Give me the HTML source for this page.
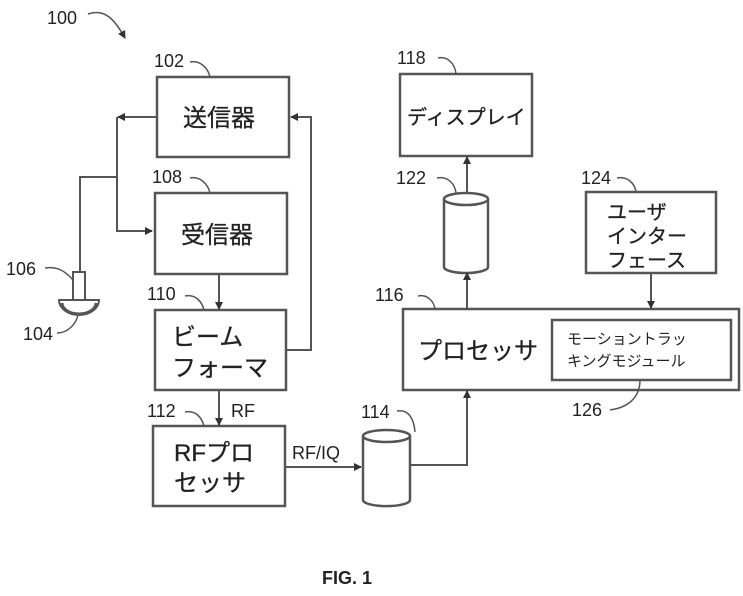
<!DOCTYPE html>
<html><head><meta charset="utf-8"><style>
body{margin:0;background:#fff;}
svg{display:block;font-family:"Liberation Sans","Noto Sans CJK JP",sans-serif;}
.b{fill:#fff;stroke:#555;stroke-width:2.5}
.l{fill:none;stroke:#555;stroke-width:2}
.t{font-size:24px;fill:#222;stroke:#222;stroke-width:0.3}
.n{font-size:18px;fill:#222;}
</style></head><body>
<svg width="743" height="596" viewBox="0 0 743 596">
<defs><marker id="a" markerWidth="8" markerHeight="8" refX="7" refY="4" orient="auto" markerUnits="userSpaceOnUse"><path d="M0,0 L8,4 L0,8z" fill="#333"/></marker></defs>
<rect class="b" x="157" y="77" width="132" height="80"/>
<rect class="b" x="155" y="193" width="132" height="81"/>
<rect class="b" x="155" y="310" width="131" height="80"/>
<rect class="b" x="153" y="426" width="132" height="80"/>
<rect class="b" x="400" y="74" width="132" height="82"/>
<rect class="b" x="586" y="192" width="130" height="81"/>
<rect class="b" x="403" y="309" width="336" height="81"/>
<rect class="b" x="552" y="320" width="179" height="60"/>
<path class="b" d="M444,199 v68 a22,6 0 0 0 44,0 v-68"/>
<ellipse class="b" cx="466" cy="199" rx="22" ry="6"/>
<path class="b" d="M363,436 v64 a23,6 0 0 0 47,0 v-64"/>
<ellipse class="b" cx="386.5" cy="436" rx="23.5" ry="6"/>
<path class="l" d="M157,117 H118" marker-end="url(#a)"/>
<path class="l" d="M117,117 V231 H152" marker-end="url(#a)"/>
<path class="l" d="M117,177 H80 V272"/>
<path class="l" d="M286,350 H311 V117 H291" marker-end="url(#a)"/>
<path class="l" d="M219,274 V309" marker-end="url(#a)"/>
<path class="l" d="M219,390 V425" marker-end="url(#a)"/>
<path class="l" d="M285,467 H361" marker-end="url(#a)"/>
<path class="l" d="M410,465 H467 V391" marker-end="url(#a)"/>
<path class="l" d="M467,309 V273" marker-end="url(#a)"/>
<path class="l" d="M467,193 V157" marker-end="url(#a)"/>
<path class="l" d="M651,273 V308" marker-end="url(#a)"/>
<rect class="b" x="73" y="272" width="12" height="28" style="stroke-width:2"/>
<path class="b" d="M59,300 H99 A20,15 0 0 1 59,300z" style="stroke-width:2"/>
<path d="M62,303 A17,11 0 0 0 96,303" fill="none" stroke="#555" stroke-width="3"/>
<g class="l" style="stroke-width:1.5">
<path d="M88,14 C105,8 115,20 125,38" marker-end="url(#a)"/>
<path d="M190,62 C200,60 208,68 210,77"/>
<path d="M190,178 C200,176 208,184 210,193"/>
<path d="M45,268 C58,266 66,272 73,280"/>
<path d="M57,333 C68,333 76,324 78,315"/>
<path d="M185,296 C196,294 202,302 204,310"/>
<path d="M185,412 C196,410 202,418 204,426"/>
<path d="M438,58 C448,56 455,64 456,74"/>
<path d="M437,178 C448,176 455,184 456,193"/>
<path d="M617,178 C628,176 635,184 636,192"/>
<path d="M418,296 C428,294 434,302 435,309"/>
<path d="M397,411 C408,409 414,418 415,432"/>
<path d="M610,410 C625,408 640,400 640,380"/>
</g>
<text class="n" x="47" y="24">100</text>
<text class="n" x="154" y="67">102</text>
<text class="n" x="152" y="183">108</text>
<text class="n" x="6" y="275">106</text>
<text class="n" x="23" y="340">104</text>
<text class="n" x="147" y="300">110</text>
<text class="n" x="147" y="417">112</text>
<text class="n" x="397" y="64">118</text>
<text class="n" x="396" y="184">122</text>
<text class="n" x="581" y="184">124</text>
<text class="n" x="375" y="301">116</text>
<text class="n" x="361" y="418">114</text>
<text class="n" x="572" y="416">126</text>
<text class="n" x="231" y="417">RF</text>
<text class="n" x="292" y="459">RF/IQ</text>
<text class="t" x="183" y="126">送信器</text>
<text class="t" x="181" y="243">受信器</text>
<text class="t" x="172" y="345">ビーム</text>
<text class="t" x="172" y="376">フォーマ</text>
<text class="t" x="174" y="461">RFプロ</text>
<text class="t" x="174" y="491">セッサ</text>
<text x="407" y="124" style="font-size:20px;fill:#222;stroke:#222;stroke-width:0.3">ディスプレイ</text>
<text x="607" y="219" style="font-size:20px;fill:#222;stroke:#222;stroke-width:0.3">ユーザ</text>
<text x="607" y="243" style="font-size:20px;fill:#222;stroke:#222;stroke-width:0.3">インター</text>
<text x="607" y="267" style="font-size:20px;fill:#222;stroke:#222;stroke-width:0.3">フェース</text>
<text class="t" x="418" y="359">プロセッサ</text>
<text x="567" y="344" style="font-size:15px;fill:#222">モーショントラッ</text>
<text x="567" y="366" style="font-size:15px;fill:#222">キングモジュール</text>
<text x="322" y="584" style="font-size:18px;font-weight:bold;fill:#222">FIG. 1</text>
</svg>
</body></html>
